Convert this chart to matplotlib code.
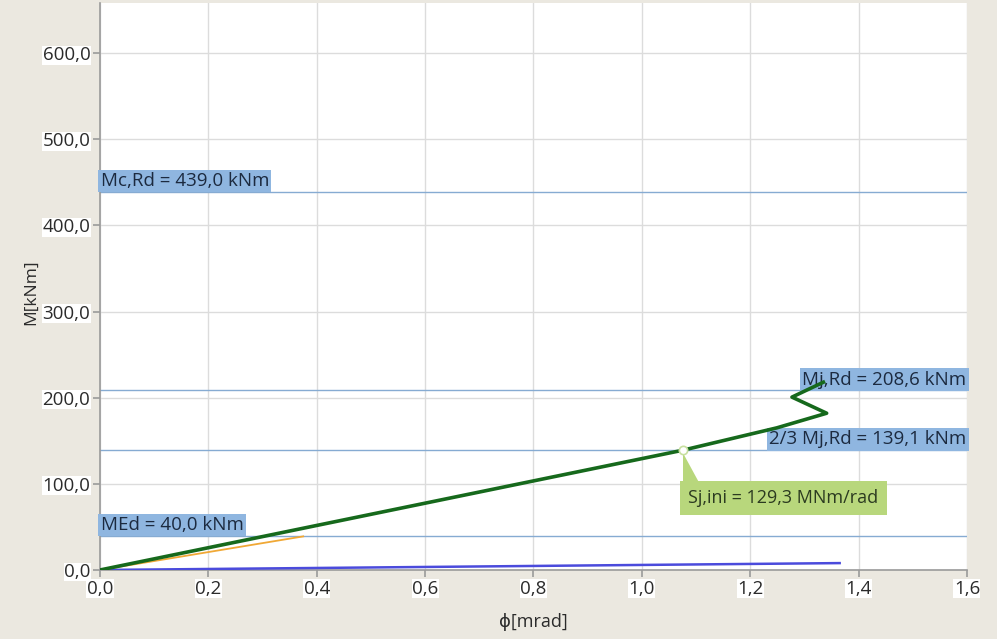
import matplotlib.pyplot as plt
from matplotlib.patches import Polygon

plt.rcParams['font.family'] = ['Open Sans', 'DejaVu Sans']

# moment-rotation curves
phi_joint = [0.0, 1.076, 1.249, 1.341, 1.277, 1.335]
m_joint = [0.0, 139.1, 165.0, 182.0, 200.7, 218.0]
phi_med = [0.0, 0.375]
m_med = [0.0, 39.0]
phi_beam = [0.0, 1.365]
m_beam = [0.0, 8.0]

# limit lines (kNm)
m_c_rd = 439.0
m_j_rd = 208.6
m_j_rd_23 = 139.1
m_ed = 40.0
s_j_ini = 129.3  # MNm/rad

x_ticks = [0.0, 0.2, 0.4, 0.6, 0.8, 1.0, 1.2, 1.4, 1.6]
y_ticks = [0, 100, 200, 300, 400, 500, 600]

bg = '#ebe8e0'
label_blue = '#8fb6e0'
line_blue = '#86abd2'
note_green = '#b8d77c'

fig = plt.figure(figsize=(9.97, 6.39), dpi=100, facecolor=bg)
ax = fig.add_axes([0.1003, 0.108, 0.8696, 0.887])
ax.set_facecolor('white')

ax.set_xlim(0, 1.6)
ax.set_ylim(0, 658)
ax.set_xticks(x_ticks)
ax.set_yticks(y_ticks)
ax.set_xticklabels([f'{v:.1f}'.replace('.', ',') for v in x_ticks])
ax.set_yticklabels([f'{v:.1f}'.replace('.', ',') for v in y_ticks])
ax.grid(True, color='#dcdcdc', lw=1)
ax.set_axisbelow(True)

for s in ['top', 'right']:
    ax.spines[s].set_visible(False)
for s in ['left', 'bottom']:
    ax.spines[s].set_color('#9a9a9a')
    ax.spines[s].set_linewidth(1.2)
ax.tick_params(colors='#9a9a9a', labelcolor='#2b2b2b', labelsize=13.5, length=5, width=1.2, pad=2)
for lbl in ax.get_xticklabels() + ax.get_yticklabels():
    lbl.set_bbox(dict(fc='white', ec='none', pad=0.3))

ax.set_xlabel('ϕ[mrad]', fontsize=13, color='#2b2b2b', labelpad=11)
ax.set_ylabel('M[kNm]', fontsize=12.5, color='#2b2b2b')
ax.yaxis.set_label_coords(-0.07, 0.49)

# horizontal resistance lines with labels
for m, txt, left in [(m_c_rd, f'Mc,Rd = {m_c_rd:.1f} kNm', True),
                     (m_j_rd, f'Mj,Rd = {m_j_rd:.1f} kNm', False),
                     (m_j_rd_23, f'2/3 Mj,Rd = {m_j_rd_23:.1f} kNm', False),
                     (m_ed, f'MEd = {m_ed:.1f} kNm', True)]:
    ax.axhline(m, color=line_blue, lw=1, zorder=2)
    ax.text(0.001 if left else 1.599, m + 2, txt.replace('.', ','),
            ha='left' if left else 'right', va='bottom', fontsize=13.5,
            color='#1c2a3f', zorder=3,
            bbox=dict(fc=label_blue, ec='none', boxstyle='square,pad=0.12'))

ax.plot(phi_beam, m_beam, color='#4b4bdc', lw=1.8, zorder=4)
ax.plot(phi_med, m_med, color='#f0a835', lw=1.3, zorder=4)
ax.plot(phi_joint, m_joint, color='#16691c', lw=2.6, zorder=5)

# initial stiffness point with callout
phi_sj = m_j_rd_23 / s_j_ini
ax.add_patch(Polygon([(phi_sj, m_j_rd_23 - 3), (phi_sj, 95),
                      (phi_sj + 0.035, 95)], closed=True, fc=note_green, ec='none', zorder=6))
ax.text(phi_sj + 0.01, 83.5, f'Sj,ini = {s_j_ini:.1f} MNm/rad'.replace('.', ','),
        ha='left', va='center', fontsize=13, color='#2b3a20', zorder=7,
        bbox=dict(fc=note_green, ec='none', boxstyle='square,pad=0.45'))
ax.plot([phi_sj], [m_j_rd_23], 'o', ms=6, mfc='white', mec='#c8e0a0', mew=1.2, zorder=8)

fig.savefig('out.png', dpi=100, facecolor=bg)
